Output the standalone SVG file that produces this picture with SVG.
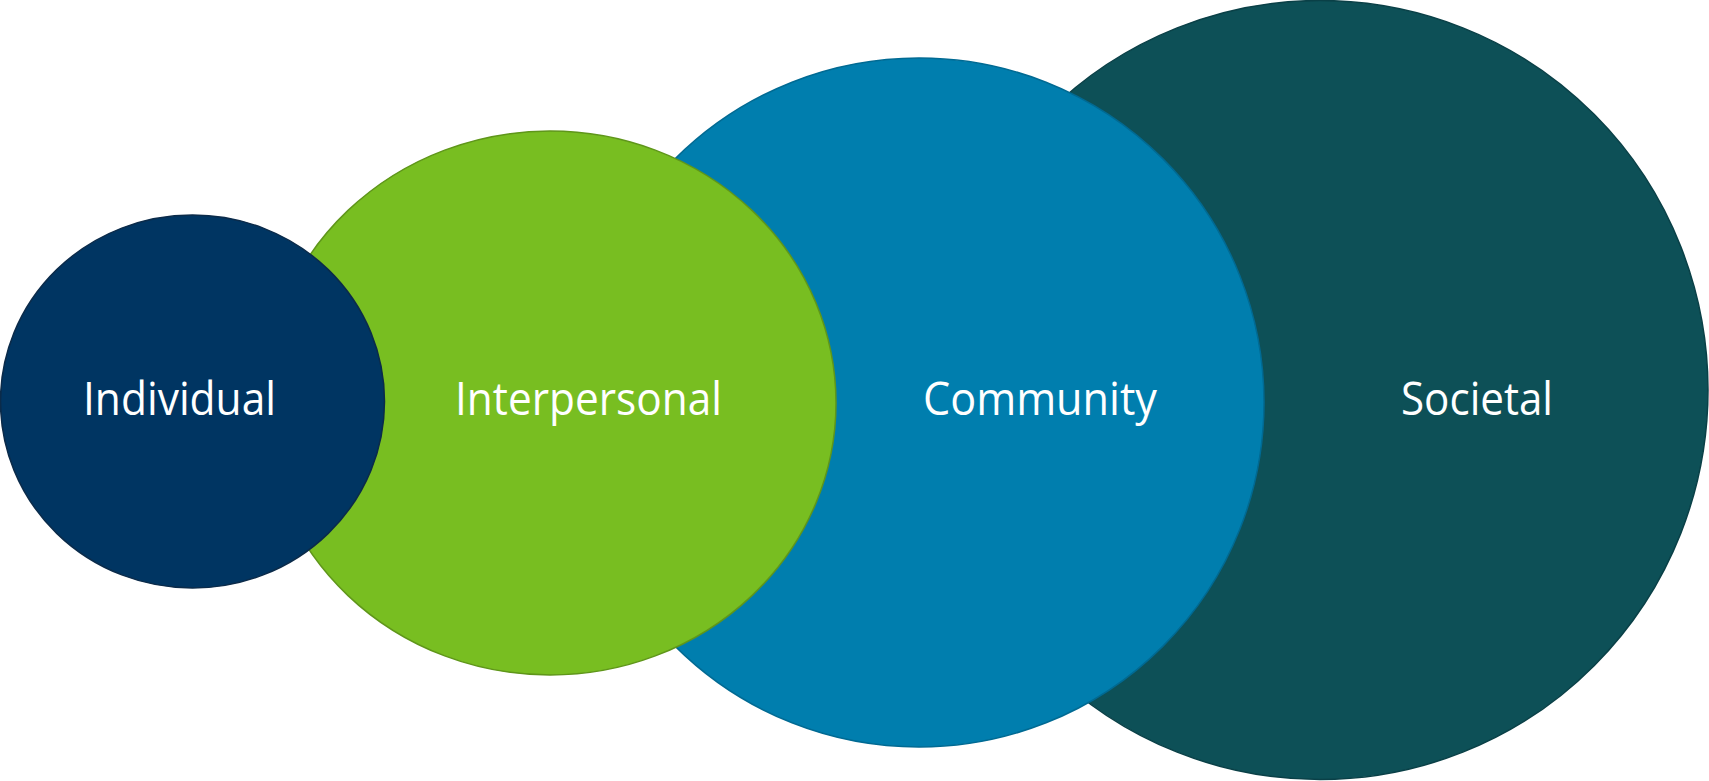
<svg xmlns="http://www.w3.org/2000/svg" width="1709" height="781" viewBox="0 0 1709 781">
<style>
.lbl{font-family:"Open Sans","Liberation Sans",sans-serif;font-size:45px;fill:#ffffff;}
.c{stroke-width:1.5;}
</style>
<rect width="1709" height="781" fill="#ffffff"/>
<g id="societal">
<ellipse class="c" cx="1320" cy="390" rx="388" ry="389.5" fill="#0D5057" stroke="#0A4047"/>
<text class="lbl" x="1401" y="415" textLength="152" lengthAdjust="spacingAndGlyphs">Societal</text>
</g>
<g id="community">
<ellipse class="c" cx="919" cy="402.5" rx="345" ry="344.5" fill="#007EAE" stroke="#006A93"/>
<text class="lbl" x="923" y="415" textLength="234" lengthAdjust="spacingAndGlyphs">Community</text>
</g>
<g id="interpersonal">
<ellipse class="c" cx="550" cy="403" rx="286" ry="272" fill="#78BE21" stroke="#5F961A"/>
<text class="lbl" x="455" y="415" textLength="267" lengthAdjust="spacingAndGlyphs">Interpersonal</text>
</g>
<g id="individual">
<ellipse class="c" cx="192.5" cy="401.5" rx="192" ry="186.5" fill="#003562" stroke="#0B2B4A"/>
<text class="lbl" x="83" y="415" textLength="193" lengthAdjust="spacingAndGlyphs">Individual</text>
</g>
<g id="connectors"></g>
</svg>
